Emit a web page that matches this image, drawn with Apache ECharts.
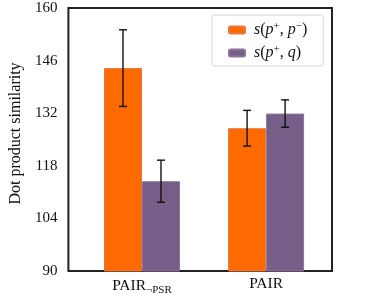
<!DOCTYPE html>
<html><head><meta charset="utf-8">
<script src="https://cdn.jsdelivr.net/npm/echarts@6/dist/echarts.min.js"></script>
<style>html,body{margin:0;padding:0;background:#fff}#c{width:375px;height:298px}</style>
</head><body><div id="c"></div>
<script>
var categories = ['PAIR¬PSR', 'PAIR'];
var seriesNames = ['s(p+,p-)', 's(p+,q)'];
var valuesPN = [144.0, 128.0];
var errorsPN = [10.2, 4.75];
var valuesPQ = [113.9, 131.9];
var errorsPQ = [5.6, 3.65];
var yTicks = [90, 104, 118, 132, 146, 160];

var serif = "'Liberation Serif','DejaVu Serif',serif";
var chart = echarts.init(document.getElementById('c'));

function errData(vals, errs, side) {
  return vals.map(function (v, i) { return [i, v, errs[i], side]; });
}
function renderErr(params, api) {
  var x = api.value(0), v = api.value(1), e = api.value(2), side = api.value(3);
  var top = api.coord([x, v + e]);
  var bot = api.coord([x, v - e]);
  var cx = top[0] + side * 19;
  var style = { stroke: '#111', lineWidth: 1.4 };
  return { type: 'group', children: [
    { type: 'line', shape: { x1: cx, y1: top[1], x2: cx, y2: bot[1] }, style: style },
    { type: 'line', shape: { x1: cx - 4, y1: top[1], x2: cx + 4, y2: top[1] }, style: style },
    { type: 'line', shape: { x1: cx - 4, y1: bot[1], x2: cx + 4, y2: bot[1] }, style: style }
  ]};
}

var legendRich = {
  i: { fontFamily: serif, fontStyle: 'italic', fontSize: 16, lineHeight: 18, color: '#111' },
  n: { fontFamily: serif, fontSize: 16, lineHeight: 18, color: '#111' },
  sup: { fontFamily: serif, fontSize: 11, lineHeight: 18, verticalAlign: 'top', color: '#111' }
};

chart.setOption({
  animation: false,
  grid: { left: 61, top: 8, width: 271, height: 263, show: true, borderColor: '#222', borderWidth: 2, backgroundColor: 'transparent' },
  legend: {
    orient: 'vertical', left: 212, top: 15,
    padding: [6, 16, 5, 16], itemGap: 6, itemWidth: 16, itemHeight: 7,
    backgroundColor: '#fff', borderColor: '#d6d6d6', borderWidth: 1, borderRadius: 2,
    data: seriesNames,
    formatter: function (name) {
      if (name === seriesNames[0]) return '{i|s}{n|(}{i|p}{sup|+}{n|, }{i|p}{sup|−}{n|)}';
      return '{i|s}{n|(}{i|p}{sup|+}{n|, }{i|q}{n|)}';
    },
    textStyle: { rich: legendRich, padding: [0, 0, 0, 4] }
  },
  xAxis: {
    type: 'value', min: -0.593, max: 1.531,
    axisLine: { show: false }, axisTick: { show: false }, splitLine: { show: false },
    axisLabel: {
      customValues: [0, 1], margin: 5,
      formatter: function (v) {
        var c = categories[Math.round(v)];
        if (c === 'PAIR¬PSR') return '{m|PAIR}{s|¬PSR}';
        return '{m|' + c + '}';
      },
      rich: {
        m: { fontFamily: serif, fontSize: 15.5, lineHeight: 16, color: '#111' },
        s: { fontFamily: serif, fontSize: 11, lineHeight: 20, verticalAlign: 'bottom', color: '#111' }
      }
    }
  },
  yAxis: {
    type: 'value', min: 90, max: 160,
    name: 'Dot product similarity', nameLocation: 'middle', nameGap: 40,
    nameTextStyle: { fontFamily: serif, fontSize: 16, color: '#111', padding: [0, 0, 0, 12] },
    axisLine: { show: false }, axisTick: { show: false }, splitLine: { show: false },
    axisLabel: { customValues: yTicks, margin: 11, fontFamily: serif, fontSize: 15, color: '#111' }
  },
  series: [
    { name: seriesNames[0], type: 'bar', barWidth: 38, barGap: '0%',
      itemStyle: { color: '#FD6A02', borderColor: '#E8763E', borderWidth: 1 },
      data: valuesPN.map(function (v, i) { return [i, v]; }) },
    { name: seriesNames[1], type: 'bar', barWidth: 38, barGap: '0%',
      itemStyle: { color: '#765E88', borderColor: '#8B7499', borderWidth: 1 },
      data: valuesPQ.map(function (v, i) { return [i, v]; }) },
    { type: 'custom', renderItem: renderErr, z: 10, silent: true,
      data: errData(valuesPN, errorsPN, -1) },
    { type: 'custom', renderItem: renderErr, z: 10, silent: true,
      data: errData(valuesPQ, errorsPQ, 1) }
  ]
});
</script></body></html>
